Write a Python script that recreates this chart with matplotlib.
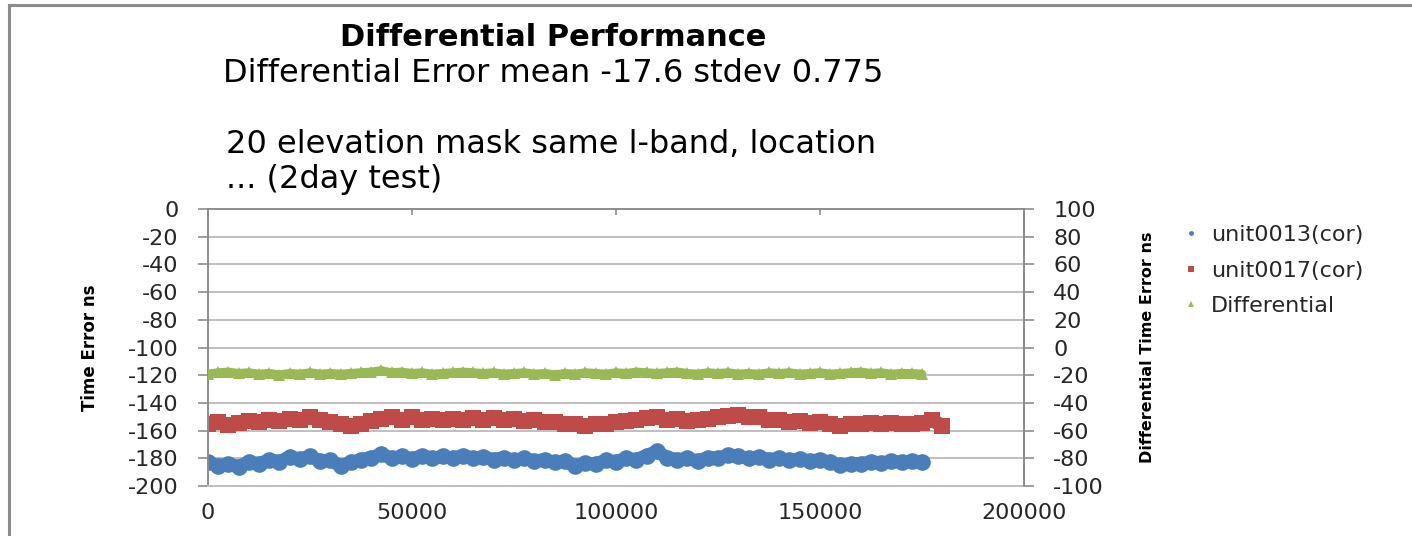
import numpy as np
import matplotlib
matplotlib.use("Agg")
import matplotlib.pyplot as plt
from matplotlib.lines import Line2D

step = 2500

unit0013 = [
    -183, -185.5, -184, -186, -182.5, -184, -181, -182.5, -179, -180.5,
    -178.5, -182, -181.5, -185.5, -183, -181, -179.5, -177, -180, -178.5,
    -180.5, -178, -180, -178.5, -180, -178, -180, -179, -181, -179.5,
    -181.5, -180, -182, -181, -183, -182, -185.5, -183.5, -184, -181.5,
    -182.5, -180, -181, -178, -175, -179.5, -181, -180, -182, -179.5,
    -180, -177.5, -178.5, -180, -179, -181, -180, -181.5, -180.5, -182,
    -181, -183, -185, -184, -184, -182.5, -183.5, -182, -183, -182,
    -183,
]

unit0017 = [
    -155, -153.5, -156, -154.5, -153, -154, -152, -153, -151.5, -152.5,
    -150.5, -152, -153.5, -155, -156.5, -155, -153, -151.5, -150.5, -152,
    -150.5, -152, -151.5, -152.5, -151.5, -152.5, -151, -152, -151, -152.5,
    -151.5, -153, -152.5, -154, -153.5, -155.5, -155, -156.5, -155, -155.5,
    -154, -153, -152.5, -151, -150.5, -152, -151.5, -153, -152, -151.5,
    -150.5, -149.5, -148.5, -150.5, -150, -152, -152.5, -153.5, -153, -154.5,
    -154, -155.5, -156.5, -155, -155.5, -154.5, -155.5, -154.5, -155.5, -155,
    -154.5, -152.5, -156.5,
]

differential = [
    -19, -18, -17.5, -18.5, -18, -19, -18.5, -19.5, -18.5, -19,
    -18, -19, -18.5, -19, -18.5, -18, -17.5, -16.5, -18, -17.5,
    -18.5, -18, -19, -18.5, -18, -17.5, -18, -18.5, -18, -19,
    -18.5, -18, -19, -18.5, -19.5, -18.5, -19, -18, -18.5, -19,
    -18, -18.5, -17.5, -18, -18.5, -18, -17.5, -18.5, -19, -18,
    -18.5, -18, -19, -18.5, -19, -18, -18.5, -18, -19, -18.5,
    -18, -19, -18.5, -18, -17.5, -18.5, -18, -19, -18.5, -18.5,
    -19,
]

x_ticks = [0, 50000, 100000, 150000, 200000]
left_ticks = list(range(0, -201, -20))
right_ticks = list(range(100, -101, -20))

blue = "#4A7EBB"
red = "#BE4B48"
green = "#98B954"
grid_col = "#BFBFBF"
axis_col = "#8C8C8C"
text_col = "#262626"

plt.rcParams["font.family"] = ["DejaVu Sans"]

fig = plt.figure(figsize=(14.12, 5.36), dpi=100)
ax = fig.add_axes([208 / 1412, 50 / 536, 816 / 1412, 277 / 536])
ax2 = ax.twinx()

t_blue = np.arange(len(unit0013)) * step
t_red = np.arange(len(unit0017)) * step
t_green = np.arange(len(differential)) * step

# dense scatter in the original reads as a ragged band
ax.plot(t_blue, unit0013, linestyle="-", linewidth=9.5, marker="o", markersize=12,
        color=blue, markeredgewidth=0, solid_capstyle="round")
ax.plot(t_red, unit0017, linestyle="-", linewidth=10, marker="s", markersize=11.5,
        color=red, markeredgewidth=0, solid_capstyle="butt")
ax2.plot(t_green, differential, linestyle="-", linewidth=6, marker="^", markersize=8,
         color=green, markeredgewidth=0, solid_capstyle="round")

ax.set_xlim(0, 200000)
ax.set_ylim(-200, 0)
ax2.set_ylim(-100, 100)

ax.set_yticks(left_ticks)
ax.set_yticklabels([str(v) for v in left_ticks])
ax2.set_yticks(right_ticks)
ax2.set_yticklabels([str(v) for v in right_ticks])
ax.set_xticks(x_ticks)
ax.set_xticklabels([str(v) for v in x_ticks])

ax.yaxis.grid(True, color=grid_col, linewidth=1.4)
ax.set_axisbelow(True)

for s in ["left", "right", "top"]:
    ax.spines[s].set_color(axis_col)
    ax.spines[s].set_linewidth(1.4)
ax.spines["bottom"].set_color(grid_col)
ax.spines["bottom"].set_linewidth(1.4)
for s in ["left", "top", "bottom"]:
    ax2.spines[s].set_visible(False)
ax2.spines["right"].set_color(axis_col)
ax2.spines["right"].set_linewidth(1.4)

ax.tick_params(axis="y", direction="out", length=7, width=1.2, color=axis_col,
               labelsize=16, labelcolor=text_col, pad=14)
ax2.tick_params(axis="y", direction="out", length=7, width=1.2, color=axis_col,
                labelsize=16, labelcolor=text_col, pad=14)
ax.tick_params(axis="x", bottom=False, top=True, direction="in", length=4,
               width=1.2, color=axis_col, labelsize=16, labelcolor=text_col, pad=12)

ax.set_ylabel("Time Error ns", fontsize=12, fontweight="bold", color="black", labelpad=21)
ax2.set_ylabel("Differential Time Error ns", fontsize=11.5, fontweight="bold",
               color="black", labelpad=26)

# title block
fig.text(553 / 1412, 1 - 38 / 536, "Differential Performance", ha="center", va="center",
         fontsize=22, fontweight="bold", color="black")
fig.text(553 / 1412, 1 - 73 / 536, "Differential Error mean -17.6 stdev 0.775",
         ha="center", va="center", fontsize=23, color="black")
fig.text(551 / 1412, 1 - 162 / 536, "20 elevation mask same l-band, location\n... (2day test)",
         ha="center", va="center", multialignment="left", fontsize=23, color="black",
         linespacing=1.15)

# legend
handles = [
    Line2D([], [], linestyle="none", marker="o", markersize=3.5, color=blue, markeredgewidth=0),
    Line2D([], [], linestyle="none", marker="s", markersize=4, color=red, markeredgewidth=0),
    Line2D([], [], linestyle="none", marker="^", markersize=4, color=green, markeredgewidth=0),
]
labels = ["unit0013(cor)", "unit0017(cor)", "Differential"]
fig.legend(handles, labels, loc="upper left", bbox_to_anchor=(1160 / 1412, 1 - 205 / 536),
           frameon=False, fontsize=16, labelspacing=0.7, handlelength=1.0,
           handletextpad=0.4, labelcolor=text_col)

# chart area frame
fig.add_artist(Line2D([9 / 1412, 9 / 1412], [0, 1 - 5 / 536], transform=fig.transFigure,
                      color="#8C8C8C", linewidth=2.2))
fig.add_artist(Line2D([9 / 1412, 1], [1 - 5 / 536, 1 - 5 / 536], transform=fig.transFigure,
                      color="#8C8C8C", linewidth=2.2))

fig.savefig("out.png", dpi=100)
